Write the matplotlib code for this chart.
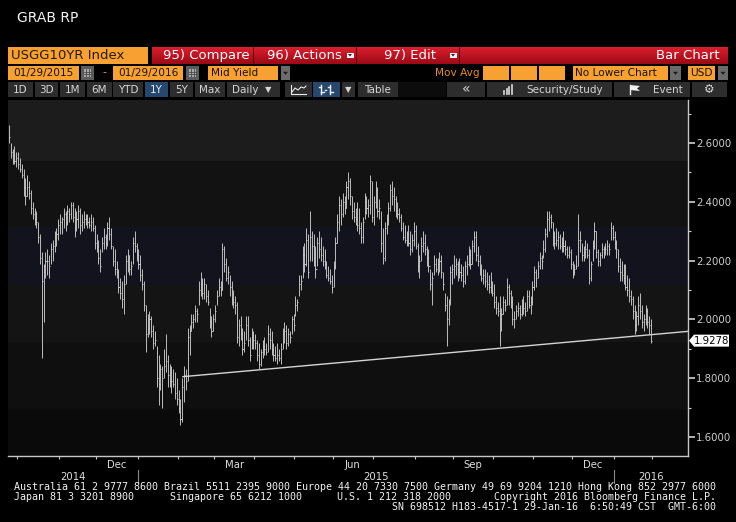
import numpy as np
import pandas as pd
import matplotlib
matplotlib.use('Agg')
import matplotlib.pyplot as plt
from matplotlib.patches import Rectangle, Polygon
from matplotlib.colors import LinearSegmentedColormap
from matplotlib.ticker import MultipleLocator

# ---------------- data (USGG10YR daily bars) ----------------
start_date = '2014-09-24'
end_date = '2016-01-29'
axis_end = '2016-02-29'

highs = [
    2.66, 2.60, 2.58, 2.59, 2.57, 2.57, 2.55, 2.53, 2.51, 2.48,
    2.49, 2.47, 2.44, 2.40, 2.38, 2.37, 2.33, 2.29, 2.23, 2.19,
    2.23, 2.24, 2.22, 2.26, 2.27, 2.30, 2.31, 2.34, 2.36, 2.35,
    2.38, 2.37, 2.39, 2.38, 2.40, 2.40, 2.38, 2.37, 2.39, 2.38,
    2.36, 2.37, 2.36, 2.36, 2.35, 2.36, 2.35, 2.32, 2.29, 2.27,
    2.24, 2.28, 2.31, 2.29, 2.33, 2.35, 2.31, 2.25, 2.24, 2.20,
    2.17, 2.14, 2.13, 2.15, 2.22, 2.24, 2.22, 2.20, 2.28, 2.30,
    2.26, 2.24, 2.22, 2.17, 2.13, 2.05, 2.02, 2.03, 2.01, 1.98,
    1.96, 1.91, 1.88, 1.85, 1.84, 1.90, 1.95, 1.88, 1.85, 1.84,
    1.83, 1.82, 1.80, 1.76, 1.73, 1.80, 1.84, 1.83, 1.97, 1.98,
    2.02, 2.02, 2.05, 2.04, 2.13, 2.16, 2.14, 2.14, 2.12, 2.10,
    2.04, 2.01, 2.02, 2.05, 2.10, 2.14, 2.13, 2.26, 2.25, 2.21,
    2.18, 2.15, 2.13, 2.10, 2.08, 2.06, 2.00, 2.01, 1.97, 1.96,
    2.01, 2.01, 1.94, 1.97, 1.96, 1.95, 1.93, 1.92, 1.90, 1.93,
    1.94, 1.92, 1.98, 1.97, 1.96, 1.92, 1.91, 1.92, 1.90, 1.92,
    1.97, 1.99, 1.98, 1.97, 1.96, 2.01, 2.02, 2.08, 2.07, 2.15,
    2.15, 2.25, 2.26, 2.31, 2.29, 2.37, 2.30, 2.29, 2.25, 2.28,
    2.30, 2.28, 2.25, 2.24, 2.20, 2.18, 2.17, 2.15, 2.20, 2.28,
    2.36, 2.42, 2.41, 2.43, 2.42, 2.47, 2.50, 2.48, 2.42, 2.40,
    2.38, 2.40, 2.38, 2.33, 2.35, 2.43, 2.42, 2.41, 2.49, 2.47,
    2.42, 2.47, 2.45, 2.41, 2.37, 2.31, 2.33, 2.36, 2.40, 2.46,
    2.47, 2.45, 2.42, 2.40, 2.38, 2.36, 2.33, 2.32, 2.30, 2.32,
    2.30, 2.29, 2.33, 2.32, 2.26, 2.22, 2.28, 2.30, 2.29, 2.25,
    2.24, 2.17, 2.16, 2.22, 2.21, 2.21, 2.23, 2.22, 2.16, 2.09,
    2.08, 2.07, 2.18, 2.19, 2.22, 2.21, 2.20, 2.21, 2.19, 2.18,
    2.20, 2.22, 2.25, 2.24, 2.27, 2.30, 2.30, 2.25, 2.22, 2.19,
    2.17, 2.17, 2.16, 2.15, 2.16, 2.13, 2.12, 2.08, 2.06, 2.08,
    2.04, 2.08, 2.07, 2.14, 2.12, 2.10, 2.08, 2.03, 2.05, 2.06,
    2.05, 2.07, 2.08, 2.06, 2.10, 2.10, 2.08, 2.13, 2.18, 2.17,
    2.20, 2.23, 2.22, 2.27, 2.31, 2.37, 2.37, 2.36, 2.33, 2.30,
    2.31, 2.30, 2.29, 2.28, 2.30, 2.27, 2.25, 2.25, 2.24, 2.20,
    2.19, 2.22, 2.36, 2.30, 2.26, 2.25, 2.27, 2.26, 2.24, 2.20,
    2.27, 2.33, 2.30, 2.24, 2.23, 2.26, 2.25, 2.26, 2.27, 2.26,
    2.33, 2.32, 2.30, 2.27, 2.24, 2.21, 2.20, 2.19, 2.19, 2.15,
    2.14, 2.10, 2.08, 2.05, 2.03, 2.08, 2.09, 2.05, 2.02, 2.05,
    2.04, 2.01, 2.00,
]
lows = [
    2.60, 2.55, 2.53, 2.53, 2.52, 2.51, 2.50, 2.48, 2.42, 2.39,
    2.42, 2.41, 2.36, 2.34, 2.32, 2.31, 2.26, 2.19, 1.87, 1.99,
    2.14, 2.15, 2.14, 2.19, 2.20, 2.23, 2.25, 2.27, 2.29, 2.29,
    2.31, 2.30, 2.32, 2.33, 2.34, 2.33, 2.28, 2.30, 2.31, 2.29,
    2.30, 2.31, 2.32, 2.31, 2.31, 2.30, 2.30, 2.24, 2.23, 2.19,
    2.16, 2.23, 2.24, 2.24, 2.25, 2.27, 2.24, 2.18, 2.15, 2.14,
    2.09, 2.07, 2.04, 2.02, 2.12, 2.16, 2.15, 2.15, 2.19, 2.23,
    2.20, 2.17, 2.13, 2.10, 2.03, 1.89, 1.94, 1.95, 1.94, 1.90,
    1.91, 1.77, 1.71, 1.76, 1.70, 1.80, 1.82, 1.77, 1.77, 1.75,
    1.77, 1.73, 1.71, 1.68, 1.64, 1.65, 1.72, 1.76, 1.79, 1.88,
    1.96, 1.97, 1.99, 1.99, 2.05, 2.08, 2.07, 2.07, 2.06, 2.05,
    1.97, 1.94, 1.96, 1.99, 2.05, 2.08, 2.08, 2.10, 2.16, 2.13,
    2.12, 2.08, 2.05, 2.04, 2.02, 1.92, 1.91, 1.93, 1.88, 1.89,
    1.93, 1.91, 1.86, 1.90, 1.90, 1.90, 1.86, 1.83, 1.84, 1.87,
    1.88, 1.88, 1.89, 1.90, 1.88, 1.86, 1.86, 1.85, 1.86, 1.85,
    1.90, 1.92, 1.90, 1.91, 1.92, 1.95, 1.96, 2.01, 2.03, 2.08,
    2.10, 2.14, 2.16, 2.18, 2.14, 2.20, 2.20, 2.18, 2.14, 2.18,
    2.21, 2.20, 2.18, 2.17, 2.14, 2.13, 2.12, 2.09, 2.11, 2.17,
    2.26, 2.30, 2.32, 2.35, 2.36, 2.38, 2.41, 2.39, 2.34, 2.33,
    2.32, 2.30, 2.29, 2.26, 2.26, 2.34, 2.36, 2.35, 2.36, 2.33,
    2.32, 2.38, 2.35, 2.34, 2.23, 2.19, 2.20, 2.29, 2.32, 2.37,
    2.39, 2.37, 2.35, 2.34, 2.33, 2.30, 2.27, 2.26, 2.25, 2.25,
    2.22, 2.23, 2.25, 2.24, 2.16, 2.14, 2.20, 2.23, 2.22, 2.18,
    2.16, 2.10, 2.05, 2.15, 2.16, 2.15, 2.16, 2.14, 2.10, 2.03,
    1.91, 1.98, 2.05, 2.12, 2.14, 2.15, 2.13, 2.14, 2.13, 2.11,
    2.12, 2.15, 2.18, 2.17, 2.19, 2.23, 2.20, 2.18, 2.15, 2.13,
    2.12, 2.11, 2.10, 2.09, 2.09, 2.08, 2.04, 2.02, 2.01, 1.91,
    1.96, 2.02, 2.03, 2.05, 2.05, 2.04, 1.98, 1.97, 2.00, 2.01,
    2.00, 2.01, 2.02, 2.01, 2.03, 2.04, 2.02, 2.05, 2.10, 2.11,
    2.14, 2.17, 2.17, 2.21, 2.23, 2.28, 2.30, 2.31, 2.25, 2.24,
    2.25, 2.24, 2.24, 2.23, 2.23, 2.22, 2.21, 2.21, 2.17, 2.14,
    2.15, 2.17, 2.18, 2.23, 2.20, 2.20, 2.21, 2.21, 2.12, 2.13,
    2.20, 2.24, 2.21, 2.18, 2.18, 2.21, 2.21, 2.22, 2.22, 2.22,
    2.27, 2.27, 2.24, 2.21, 2.16, 2.13, 2.13, 2.12, 2.10, 2.08,
    2.06, 2.05, 2.00, 1.95, 1.96, 1.98, 2.00, 1.97, 1.96, 1.98,
    1.97, 1.95, 1.92,
]
closes = [
    2.62, 2.57, 2.56, 2.54, 2.55, 2.53, 2.51, 2.49, 2.45, 2.42,
    2.45, 2.43, 2.38, 2.36, 2.34, 2.33, 2.28, 2.21, 2.13, 2.18,
    2.20, 2.20, 2.18, 2.24, 2.25, 2.28, 2.29, 2.32, 2.33, 2.34,
    2.36, 2.33, 2.37, 2.36, 2.39, 2.35, 2.31, 2.34, 2.37, 2.32,
    2.33, 2.34, 2.34, 2.33, 2.32, 2.33, 2.31, 2.26, 2.25, 2.21,
    2.18, 2.26, 2.28, 2.26, 2.31, 2.29, 2.25, 2.20, 2.17, 2.16,
    2.11, 2.09, 2.07, 2.12, 2.20, 2.22, 2.17, 2.18, 2.26, 2.25,
    2.22, 2.19, 2.15, 2.12, 2.05, 1.95, 1.97, 2.00, 1.96, 1.92,
    1.93, 1.80, 1.78, 1.83, 1.80, 1.84, 1.86, 1.81, 1.82, 1.79,
    1.78, 1.75, 1.73, 1.70, 1.66, 1.77, 1.81, 1.79, 1.94, 1.96,
    1.99, 2.00, 2.03, 2.02, 2.10, 2.12, 2.09, 2.12, 2.08, 2.06,
    1.99, 1.96, 2.00, 2.03, 2.08, 2.11, 2.10, 2.24, 2.19, 2.14,
    2.16, 2.11, 2.07, 2.06, 2.05, 1.94, 1.98, 1.95, 1.90, 1.92,
    1.98, 1.93, 1.88, 1.94, 1.93, 1.92, 1.88, 1.85, 1.89, 1.91,
    1.90, 1.89, 1.95, 1.93, 1.90, 1.88, 1.87, 1.88, 1.87, 1.90,
    1.95, 1.96, 1.92, 1.95, 1.94, 2.00, 1.98, 2.05, 2.06, 2.12,
    2.13, 2.22, 2.19, 2.27, 2.16, 2.28, 2.25, 2.21, 2.17, 2.26,
    2.24, 2.22, 2.20, 2.19, 2.15, 2.14, 2.13, 2.11, 2.18, 2.26,
    2.33, 2.39, 2.36, 2.40, 2.38, 2.45, 2.47, 2.42, 2.37, 2.35,
    2.34, 2.32, 2.31, 2.28, 2.33, 2.40, 2.38, 2.39, 2.47, 2.35,
    2.40, 2.44, 2.37, 2.38, 2.26, 2.21, 2.31, 2.34, 2.38, 2.44,
    2.42, 2.41, 2.37, 2.36, 2.35, 2.31, 2.28, 2.27, 2.29, 2.26,
    2.24, 2.27, 2.30, 2.25, 2.18, 2.20, 2.25, 2.26, 2.24, 2.21,
    2.18, 2.12, 2.14, 2.19, 2.17, 2.19, 2.20, 2.16, 2.12, 2.05,
    2.00, 2.06, 2.16, 2.17, 2.18, 2.19, 2.17, 2.16, 2.15, 2.13,
    2.18, 2.19, 2.22, 2.19, 2.25, 2.28, 2.22, 2.20, 2.17, 2.14,
    2.15, 2.13, 2.12, 2.11, 2.10, 2.09, 2.06, 2.04, 2.03, 2.00,
    2.02, 2.06, 2.05, 2.11, 2.09, 2.06, 2.00, 2.00, 2.03, 2.04,
    2.02, 2.05, 2.04, 2.03, 2.08, 2.05, 2.06, 2.11, 2.16, 2.14,
    2.18, 2.21, 2.20, 2.24, 2.29, 2.34, 2.35, 2.33, 2.28, 2.26,
    2.27, 2.28, 2.25, 2.26, 2.25, 2.24, 2.22, 2.23, 2.19, 2.16,
    2.17, 2.18, 2.27, 2.27, 2.22, 2.23, 2.24, 2.22, 2.14, 2.19,
    2.25, 2.30, 2.23, 2.20, 2.22, 2.24, 2.23, 2.24, 2.25, 2.24,
    2.31, 2.28, 2.26, 2.24, 2.18, 2.16, 2.15, 2.14, 2.11, 2.10,
    2.08, 2.07, 2.03, 1.98, 2.01, 2.05, 2.03, 1.99, 2.00, 2.03,
    1.99, 1.98, 1.9278,
]

ytick_values = [1.6, 1.8, 2.0, 2.2, 2.4, 2.6]
band_edges = [2.540, 2.315, 2.114, 1.924, 1.693]
trend_dates = ['2015-02-04', '2016-01-29']
trend_values = [1.805, 1.948]
last_price = 1.9278
label_months = {12: 'Dec', 3: 'Mar', 6: 'Jun', 9: 'Sep'}

footer_line1 = ('Australia 61 2 9777 8600 Brazil 5511 2395 9000 Europe 44 20 7330 7500 '
                'Germany 49 69 9204 1210 Hong Kong 852 2977 6000')
footer_line2 = ['Japan 81 3 3201 8900', 'Singapore 65 6212 1000',
                'U.S. 1 212 318 2000', 'Copyright 2016 Bloomberg Finance L.P.']
footer_line3 = 'SN 698512 H183-4517-1 29-Jan-16  6:50:49 CST  GMT-6:00'

# ---------------- figure & overlay (pixel coordinates) ----------------
W, H = 736, 522
fig = plt.figure(figsize=(W / 100, H / 100), dpi=100, facecolor='black')
ax0 = fig.add_axes([0, 0, 1, 1])
ax0.set_facecolor('black')
ax0.axis('off')

ORANGE = '#f6a131'
BTN = '#2d2d2d'
BLUE = '#27486e'
GREY_BTN = '#6b6b6b'


def rect(x0, y0, x1, y1, color, z=1):
    ax0.add_patch(Rectangle((x0, y0), x1 - x0, y1 - y0, facecolor=color,
                            edgecolor='none', zorder=z))


def grad_rect(x0, y0, x1, y1, c_top, c_bot):
    cmap = LinearSegmentedColormap.from_list('g', [c_top, c_bot])
    ax0.imshow(np.linspace(0, 1, 32).reshape(-1, 1), extent=(x0, x1, y1, y0),
               cmap=cmap, aspect='auto', origin='upper', interpolation='bilinear', zorder=1)


def txt(x, y, s, color='white', size=8, ha='left', va='center', family='DejaVu Sans', **kw):
    ax0.text(x, y, s, color=color, fontsize=size, ha=ha, va=va, family=family, zorder=5, **kw)


def dropdown(x0, y0, x1, y1):
    rect(x0, y0, x1, y1, GREY_BTN, z=2)
    cx, cy = (x0 + x1) / 2, (y0 + y1) / 2
    ax0.add_patch(Polygon([[cx - 2.5, cy - 1.2], [cx + 2.5, cy - 1.2], [cx, cy + 1.8]],
                          closed=True, facecolor='#1a1a1a', edgecolor='none', zorder=3))


def calendar(x0, y0, x1, y1):
    rect(x0, y0, x1, y1, '#5c5c5c', z=2)
    rect(x0 + 3, y0 + 3, x1 - 3, y1 - 3, '#a8a8a8', z=3)
    for k in range(1, 3):
        yy = y0 + 3 + k * (y1 - y0 - 6) / 3
        ax0.plot([x0 + 3, x1 - 3], [yy, yy], color='#4a4a4a', lw=0.6, zorder=4)
        xx = x0 + 3 + k * (x1 - x0 - 6) / 3
        ax0.plot([xx, xx], [y0 + 3, y1 - 3], color='#4a4a4a', lw=0.6, zorder=4)


# header
txt(17, 17.5, 'GRAB RP', color='#f2f2f2', size=10)

# row 1
rect(8, 47, 148, 64, ORANGE)
txt(11, 55.8, 'USGG10YR Index', color='#2a1800', size=9.5)
grad_rect(152, 47, 728, 64, '#de1e2e', '#9c0a16')
for sx in (252.5, 355.5, 458.5):
    rect(sx, 47, sx + 1.5, 64, '#5a0008', z=2)
txt(163, 55.8, '95) Compare', color='white', size=9.5)
txt(267, 55.8, '96) Actions', color='white', size=9.5)
txt(384, 55.8, '97) Edit', color='white', size=9.5)
txt(720, 55.8, 'Bar Chart', color='white', size=9.5, ha='right')
for dx in (346.5, 449.5):
    rect(dx, 52.5, dx + 7, 58, '#f4f4f4', z=3)
    ax0.add_patch(Polygon([[dx + 1.5, 54], [dx + 5.5, 54], [dx + 3.5, 56.5]], closed=True,
                          facecolor='#222222', edgecolor='none', zorder=4))

# row 2
rect(8, 66, 79, 80, ORANGE)
txt(43.5, 73.3, '01/29/2015', color='#1e1200', size=7.6, ha='center')
calendar(81, 66, 94, 80)
txt(104, 72.5, '-', color=ORANGE, size=8, ha='center')
rect(113, 66, 183, 80, ORANGE)
txt(148, 73.3, '01/29/2016', color='#1e1200', size=7.6, ha='center')
calendar(186, 66, 199, 80)
rect(208, 66, 278, 80, ORANGE)
txt(211, 73.3, 'Mid Yield', color='#1e1200', size=7.6)
dropdown(281, 66, 290, 80)
txt(435, 73.3, 'Mov Avg', color='#e58c1c', size=7.6)
for bx0, bx1 in ((483, 509), (511, 537), (539, 565)):
    rect(bx0, 66, bx1, 80, ORANGE)
rect(573, 66, 668, 80, ORANGE)
txt(575, 73.3, 'No Lower Chart', color='#1e1200', size=7.6)
dropdown(670, 66, 681, 80)
rect(688, 66, 715, 80, ORANGE)
txt(690, 73.3, 'USD', color='#1e1200', size=7.6)
dropdown(718, 66, 728, 80)

# row 3
buttons = [(8, 33, '1D', False), (35, 58, '3D', False), (60, 85, '1M', False),
           (87, 112, '6M', False), (113, 143, 'YTD', False), (145, 168, '1Y', True),
           (170, 193, '5Y', False), (195, 225, 'Max', False), (358, 398, 'Table', False)]
for bx0, bx1, lab, hl in buttons:
    rect(bx0, 82, bx1, 97, BLUE if hl else BTN)
    txt((bx0 + bx1) / 2, 89.8, lab, color='#e6eef6' if hl else '#d6d6d6', size=7.5, ha='center')
rect(227, 82, 280, 97, BTN)
txt(232, 89.8, 'Daily', color='#d6d6d6', size=7.5)
txt(268, 89.5, '▼', color='#d6d6d6', size=6, ha='center')
rect(285, 82, 312, 97, BTN)
ax0.plot([291, 291, 306], [85, 94, 94], color='#e8e8e8', lw=0.8, zorder=5)
ax0.plot([292, 295, 298, 301, 304, 306], [92, 88, 90, 87, 88, 86], color='#e8e8e8', lw=0.8, zorder=5)
rect(313, 82, 340, 97, BLUE)
for bx in (321, 330):
    ax0.plot([bx, bx], [85, 94], color='#f0f0f0', lw=1.0, zorder=5)
    ax0.plot([bx - 2.5, bx], [87, 87], color='#f0f0f0', lw=1.0, zorder=5)
    ax0.plot([bx, bx + 2.5], [92, 92], color='#f0f0f0', lw=1.0, zorder=5)
ax0.plot([325, 326], [89.5, 89.5], color='#f0f0f0', lw=1.0, zorder=5)
rect(342, 82, 355, 97, BTN)
txt(348.5, 89.5, '▼', color='#d6d6d6', size=6, ha='center')
rect(398, 82, 446, 97, '#0c0c0c')
rect(447, 82, 485, 97, BTN)
txt(466, 89.3, '«', color='#d6d6d6', size=10, ha='center')
rect(487, 82, 612, 97, BTN)
for k, hgt in enumerate((3, 5, 7, 9)):
    ax0.plot([504 + 2.6 * k, 504 + 2.6 * k], [94, 94 - hgt], color='#dcdcdc', lw=1.2, zorder=5)
txt(526, 89.8, 'Security/Study', color='#d6d6d6', size=7.5)
rect(614, 82, 690, 97, BTN)
ax0.plot([630, 630], [85, 94], color='#f0f0f0', lw=1.0, zorder=5)
ax0.add_patch(Polygon([[630, 85], [640, 86], [637, 88.5], [640, 91], [630, 90]], closed=True,
                      facecolor='#f0f0f0', edgecolor='none', zorder=5))
txt(653, 89.8, 'Event', color='#d6d6d6', size=7.5)
rect(692, 82, 727, 97, BTN)
txt(709.5, 89.5, '⚙', color='#d6d6d6', size=8.5, ha='center')

ax0.set_xlim(0, W)
ax0.set_ylim(H, 0)

# ---------------- chart axes ----------------
PLOT_L, PLOT_R, PLOT_T, PLOT_B = 8, 688, 100, 456
ax = fig.add_axes([PLOT_L / W, 1 - PLOT_B / H, (PLOT_R - PLOT_L) / W, (PLOT_B - PLOT_T) / H])
n = min(len(highs), len(lows), len(closes))
dates = pd.bdate_range(start_date, end_date)[:n]
axis_dates = pd.bdate_range(start_date, axis_end)
xpos = np.arange(n)

px_per_bar = 642 / max(n - 1, 1)
x_left = -1 / px_per_bar
x_right = (PLOT_R - PLOT_L - 1) / px_per_bar
y_bot = 2.6 - (PLOT_B - 143) / 294
y_top = 2.6 + (143 - PLOT_T) / 294
ax.set_xlim(x_left, x_right)
ax.set_ylim(y_bot, y_top)
ax.set_facecolor('#0a0a0a')

band_colors = ['#1c1c1c', '#121212', '#12131c', '#141414', '#0f0f0f', '#0a0a0a']
edges = [y_top] + band_edges + [y_bot]
for (e0, e1), col in zip(zip(edges[:-1], edges[1:]), band_colors):
    ax.axhspan(e1, e0, color=col, lw=0, zorder=0)

ax.vlines(xpos, np.array(lows[:n]), np.array(highs[:n]), colors='#d8d8d8', lw=0.6, zorder=3)
ax.hlines(np.array(closes[:n]), xpos, xpos + 0.6, colors='#d8d8d8', lw=0.6, zorder=3)

# support trend line
t_idx = [dates.get_loc(pd.Timestamp(d)) for d in trend_dates]
slope = (trend_values[1] - trend_values[0]) / (t_idx[1] - t_idx[0])
tx = [t_idx[0], x_right]
ty = [trend_values[0], trend_values[0] + slope * (x_right - t_idx[0])]
ax.plot(tx, ty, color='#d4d4d4', lw=1.0, zorder=4, solid_capstyle='butt')

# y axis on right
ax.yaxis.tick_right()
ax.set_yticks(ytick_values)
ax.set_yticklabels(['%.4f' % v for v in ytick_values])
ax.yaxis.set_minor_locator(MultipleLocator(0.1))
ax.tick_params(axis='y', which='major', direction='out', length=5, width=1.2,
               colors='#cfcfcf', labelsize=7.3, pad=1)
ax.tick_params(axis='y', which='minor', direction='out', length=2.5, width=0.8, colors='#cfcfcf')
for s in ('left', 'top'):
    ax.spines[s].set_visible(False)
for s in ('right', 'bottom'):
    ax.spines[s].set_color('#c8c8c8')
    ax.spines[s].set_linewidth(1.0)

# x axis: month ticks, quarter labels, years
month_starts = [i for i in range(1, len(axis_dates))
                if axis_dates[i].month != axis_dates[i - 1].month]
year_starts = [i for i in range(1, len(axis_dates))
               if axis_dates[i].year != axis_dates[i - 1].year]
ms_pos = [i - 0.5 for i in month_starts if x_left < i - 0.5 < x_right]
ax.set_xticks(ms_pos)
ax.set_xticklabels([])
ax.tick_params(axis='x', which='major', direction='out', length=2.5, width=0.8, colors='#c8c8c8')
xt = ax.get_xaxis_transform()
bounds = [0] + month_starts + [len(axis_dates)]
for a, b in zip(bounds[:-1], bounds[1:]):
    m = axis_dates[a].month
    if a in month_starts and m in label_months:
        c = (a + b) / 2 - 0.5
        if x_left < c < x_right:
            ax.text(c, -9.5 / 356, label_months[m], transform=xt, ha='center', va='center',
                    color='#dedede', fontsize=7.3, clip_on=False)
ybounds = [0] + year_starts + [len(axis_dates)]
for a, b in zip(ybounds[:-1], ybounds[1:]):
    lo = max(a - 0.5, x_left)
    hi = min(b - 0.5, x_right)
    if hi > lo:
        ax.text((lo + hi) / 2, -20.5 / 356, str(axis_dates[a].year), transform=xt,
                ha='center', va='center', color='#dedede', fontsize=7.3, clip_on=False)
for a in year_starts:
    if x_left < a - 0.5 < x_right:
        ax.plot([a - 0.5, a - 0.5], [-14 / 356, -27 / 356], transform=xt, color='#8a8a8a',
                lw=0.8, clip_on=False)

# last price tag
fig.canvas.draw()
yd = ax.transData.transform((0, last_price))[1]
yp = H - yd
ax0.add_patch(Polygon([[689, yp], [694, yp - 6], [729, yp - 6], [729, yp + 6], [694, yp + 6]],
                      closed=True, facecolor='white', edgecolor='none', zorder=6))
ax0.text(711.5, yp + 0.3, '%.4f' % last_price, color='black', fontsize=7.3, ha='center',
         va='center', zorder=7, family='DejaVu Sans')
ax0.set_zorder(2)
ax.set_zorder(1)
ax0.patch.set_alpha(0)

# footer
mono = 'DejaVu Sans Mono'
txt(14, 487.5, footer_line1, color='#f2f2f2', size=7.2, family=mono)
for xx, s in zip((14, 170, 337, 494), footer_line2):
    txt(xx, 497.5, s, color='#f2f2f2', size=7.2, family=mono)
txt(392, 507.5, footer_line3, color='#f2f2f2', size=7.2, family=mono)

fig.savefig('out.png', dpi=100, facecolor='black')
